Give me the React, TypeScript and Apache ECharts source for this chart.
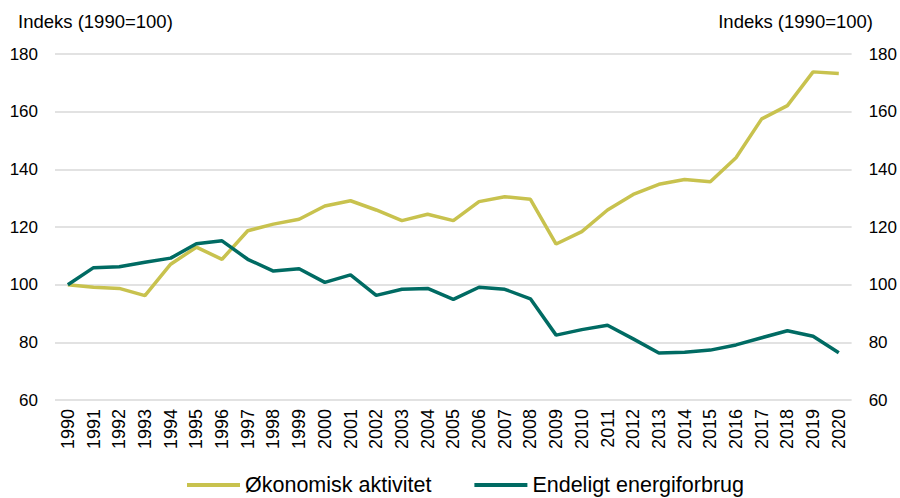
import React, { useEffect, useRef } from "react";
import * as echarts from "echarts";

const years = ["1990","1991","1992","1993","1994","1995","1996","1997","1998","1999","2000","2001","2002","2003","2004","2005","2006","2007","2008","2009","2010","2011","2012","2013","2014","2015","2016","2017","2018","2019","2020"];
const oekonomiskAktivitet = [100, 99.1, 98.7, 96.2, 107.1, 113.0, 108.8, 118.7, 121.0, 122.7, 127.3, 129.1, 125.9, 122.2, 124.4, 122.2, 128.8, 130.5, 129.6, 114.1, 118.4, 125.9, 131.3, 134.8, 136.5, 135.7, 144.0, 157.5, 162.1, 173.8, 173.2];
const endeligtEnergiforbrug = [100, 105.9, 106.2, 107.8, 109.2, 114.2, 115.2, 108.8, 104.7, 105.5, 100.8, 103.4, 96.3, 98.4, 98.7, 94.9, 99.1, 98.4, 95.1, 82.5, 84.4, 85.9, 81.2, 76.3, 76.6, 77.3, 79.1, 81.6, 84.0, 82.1, 76.4];
const seriesNames = ["Økonomisk aktivitet", "Endeligt energiforbrug"];
const axisTitle = "Indeks (1990=100)";

const FONT = "Liberation Sans, Arial, sans-serif";

export default function App() {
  const ref = useRef<HTMLDivElement>(null);
  useEffect(() => {
    if (!ref.current) return;
    const chart = echarts.init(ref.current, null, { renderer: "svg" });
    const yAxisBase = {
      type: "value",
      min: 60,
      max: 180,
      interval: 20,
      axisLine: { show: false },
      axisTick: { show: false },
      axisLabel: { fontSize: 17, color: "#000", fontFamily: FONT, margin: 17 },
    };
    chart.setOption({
      animation: false,
      textStyle: { fontFamily: FONT },
      grid: { left: 55, right: 48, top: 54, bottom: 98, containLabel: false },
      graphic: [
        { type: "text", left: 18, top: 12, style: { text: axisTitle, fontSize: 18.5, fill: "#000", fontFamily: FONT } },
        { type: "text", right: 27, top: 12, style: { text: axisTitle, fontSize: 18.5, fill: "#000", fontFamily: FONT } },
      ],
      legend: {
        left: 182,
        top: 469,
        itemGap: 43,
        itemWidth: 53,
        itemHeight: 4,
        icon: "rect",
        textStyle: { fontSize: 21.5, color: "#000", fontFamily: FONT },
        data: seriesNames,
      },
      xAxis: {
        type: "category",
        data: years,
        boundaryGap: true,
        axisLine: { show: false },
        axisTick: { show: false },
        axisLabel: { rotate: 90, fontSize: 18, color: "#000", fontFamily: FONT, margin: 9, interval: 0 },
      },
      yAxis: [
        {
          ...yAxisBase,
          position: "left",
          splitLine: { show: true, lineStyle: { color: "#D9D9D9", width: 1.5 } },
        },
        {
          ...yAxisBase,
          position: "right",
          splitLine: { show: false },
        },
      ],
      series: [
        {
          name: seriesNames[0],
          type: "line",
          data: oekonomiskAktivitet,
          yAxisIndex: 0,
          symbol: "none",
          lineStyle: { width: 3.5, color: "#C8C24E" },
          itemStyle: { color: "#C8C24E" },
        },
        {
          name: seriesNames[1],
          type: "line",
          data: endeligtEnergiforbrug,
          yAxisIndex: 0,
          symbol: "none",
          lineStyle: { width: 3.5, color: "#006B63" },
          itemStyle: { color: "#006B63" },
        },
      ],
    });
    return () => chart.dispose();
  }, []);
  return <div ref={ref} style={{ width: 900, height: 498, position: "absolute", left: 0, top: 0 }} />;
}
